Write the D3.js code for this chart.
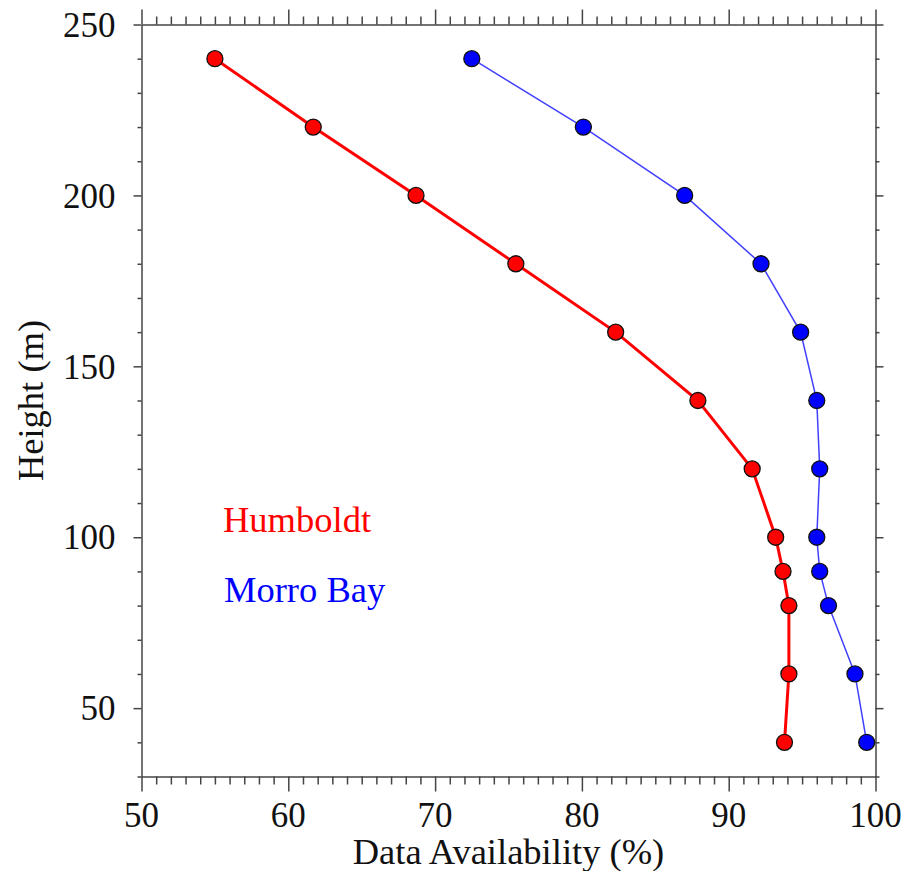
<!DOCTYPE html>
<html>
<head>
<meta charset="utf-8">
<script src="https://cdn.jsdelivr.net/npm/d3@7"></script>
<style>
  body { margin: 0; background: #fff; }
  text { font-family: "Liberation Serif", "Times New Roman", serif; }
</style>
</head>
<body>
<div id="vis"></div>
<script>
// heights (m) shared by both sites
const heights = [240, 220, 200, 180, 160, 140, 120, 100, 90, 80, 60, 40];
// data availability (%)
const humboldt = [55.0, 61.7, 68.7, 75.5, 82.3, 87.9, 91.6, 93.2, 93.7, 94.1, 94.1, 93.8];
const morroBay = [72.5, 80.1, 87.0, 92.2, 94.9, 96.0, 96.2, 96.0, 96.2, 96.8, 98.6, 99.4];
const xTicks = [50, 60, 70, 80, 90, 100];
const yTicks = [50, 100, 150, 200, 250];
const seriesNames = ["Humboldt", "Morro Bay"];

const W = 906, H = 871;
const margin = { top: 24.5, right: 30.5, bottom: 94.5, left: 141.5 };
const axisColor = "#444";
const tickFont = 35, titleFont = 36.5;

const svg = d3.select("#vis").append("svg")
    .attr("width", W)
    .attr("height", H);

const x = d3.scaleLinear()
    .domain([50, 100])
    .range([margin.left, W - margin.right]);

const y = d3.scaleLinear()
    .domain([30, 250])
    .range([H - margin.bottom, margin.top]);

const xMinor = d3.range(50, 101, 1).filter(d => d % 10 !== 0);
const yMinor = d3.range(30, 251, 10).filter(d => d % 50 !== 0);

function styleAxis(g) {
    g.selectAll(".domain").attr("stroke", axisColor).attr("stroke-width", 1.5);
    g.selectAll(".tick line").attr("stroke", axisColor).attr("stroke-width", 1.5);
}

// bottom axis
svg.append("g")
    .attr("transform", `translate(0,${y(30)})`)
    .call(d3.axisBottom(x).tickValues(xMinor).tickSize(8).tickFormat("").tickSizeOuter(0))
    .call(styleAxis);
svg.append("g")
    .attr("transform", `translate(0,${y(30)})`)
    .call(d3.axisBottom(x).tickValues(xTicks).tickSize(15).tickFormat("").tickSizeOuter(0))
    .call(styleAxis)
    .call(g => g.select(".domain").remove());

// top axis
svg.append("g")
    .attr("transform", `translate(0,${y(250)})`)
    .call(d3.axisTop(x).tickValues(xMinor).tickSize(8).tickFormat("").tickSizeOuter(0))
    .call(styleAxis);
svg.append("g")
    .attr("transform", `translate(0,${y(250)})`)
    .call(d3.axisTop(x).tickValues(xTicks).tickSize(15).tickFormat("").tickSizeOuter(0))
    .call(styleAxis)
    .call(g => g.select(".domain").remove());

// left axis
svg.append("g")
    .attr("transform", `translate(${x(50)},0)`)
    .call(d3.axisLeft(y).tickValues(yMinor).tickSize(4).tickFormat("").tickSizeOuter(0))
    .call(styleAxis);
svg.append("g")
    .attr("transform", `translate(${x(50)},0)`)
    .call(d3.axisLeft(y).tickValues(yTicks).tickSize(8).tickFormat("").tickSizeOuter(0))
    .call(styleAxis)
    .call(g => g.select(".domain").remove());

// right axis
svg.append("g")
    .attr("transform", `translate(${x(100)},0)`)
    .call(d3.axisRight(y).tickValues(yMinor).tickSize(4).tickFormat("").tickSizeOuter(0))
    .call(styleAxis);
svg.append("g")
    .attr("transform", `translate(${x(100)},0)`)
    .call(d3.axisRight(y).tickValues(yTicks).tickSize(8).tickFormat("").tickSizeOuter(0))
    .call(styleAxis)
    .call(g => g.select(".domain").remove());

// tick labels
svg.append("g").selectAll("text")
    .data(xTicks)
    .join("text")
    .attr("x", d => x(d))
    .attr("y", 827)
    .attr("text-anchor", "middle")
    .attr("font-size", tickFont)
    .attr("fill", "#111")
    .text(d => d);

svg.append("g").selectAll("text")
    .data(yTicks)
    .join("text")
    .attr("x", x(50) - 26)
    .attr("y", d => y(d))
    .attr("dy", "0.35em")
    .attr("text-anchor", "end")
    .attr("font-size", tickFont)
    .attr("fill", "#111")
    .text(d => d);

// axis titles
svg.append("text")
    .attr("x", (x(50) + x(100)) / 2)
    .attr("y", 864)
    .attr("text-anchor", "middle")
    .attr("font-size", titleFont)
    .attr("fill", "#111")
    .text("Data Availability (%)");

svg.append("text")
    .attr("transform", `translate(43,${(y(30) + y(250)) / 2}) rotate(-90)`)
    .attr("text-anchor", "middle")
    .attr("font-size", titleFont)
    .attr("fill", "#111")
    .text("Height (m)");

// series
const series = [
    { name: seriesNames[0], values: humboldt, color: "#ff0000", width: 3 },
    { name: seriesNames[1], values: morroBay, color: "#0000ff", width: 1.5 }
];

const line = d3.line()
    .x(d => x(d[0]))
    .y(d => y(d[1]));

series.forEach(s => {
    const pts = s.values.map((v, i) => [v, heights[i]]);
    svg.append("path")
        .datum(pts)
        .attr("fill", "none")
        .attr("stroke", s.color)
        .attr("stroke-opacity", s.width < 2 ? 0.75 : 1)
        .attr("stroke-width", s.width)
        .attr("d", line);
    svg.append("g").selectAll("circle")
        .data(pts)
        .join("circle")
        .attr("cx", d => x(d[0]))
        .attr("cy", d => y(d[1]))
        .attr("r", 8)
        .attr("fill", s.color)
        .attr("stroke", "#111")
        .attr("stroke-width", 1.3);
});

// legend text
svg.append("text")
    .attr("x", 223)
    .attr("y", 532)
    .attr("font-size", titleFont)
    .attr("fill", "#ff0000")
    .text(seriesNames[0]);
svg.append("text")
    .attr("x", 224)
    .attr("y", 602)
    .attr("font-size", titleFont)
    .attr("fill", "#0000ff")
    .text(seriesNames[1]);
</script>
</body>
</html>
